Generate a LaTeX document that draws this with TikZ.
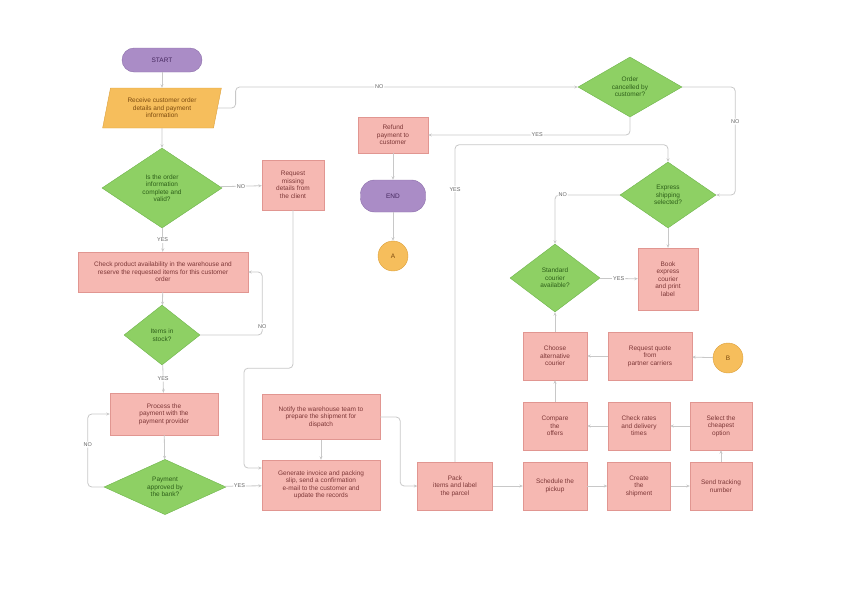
\documentclass[tikz,border=0pt]{standalone}
\usepackage{fontspec}
\setmainfont{Liberation Sans}
\usetikzlibrary{arrows.meta,shapes.geometric}
\definecolor{termfill}{RGB}{170,140,198}
\definecolor{termdraw}{RGB}{140,110,170}
\definecolor{termtext}{RGB}{70,40,95}
\definecolor{iofill}{RGB}{246,190,92}
\definecolor{iodraw}{RGB}{220,160,60}
\definecolor{iotext}{RGB}{125,75,15}
\definecolor{decfill}{RGB}{142,208,100}
\definecolor{decdraw}{RGB}{110,180,75}
\definecolor{dectext}{RGB}{45,95,25}
\definecolor{procfill}{RGB}{246,184,178}
\definecolor{procdraw}{RGB}{225,150,145}
\definecolor{proctext}{RGB}{125,55,55}
\definecolor{linegray}{RGB}{200,200,200}
\definecolor{lbltext}{RGB}{100,100,100}
\begin{document}
\begin{tikzpicture}[x=1pt, y=-1pt,
  base/.style={font=\fontsize{6.5}{7.5}\selectfont, align=center, inner sep=1pt},
  term/.style={base, draw=termdraw, fill=termfill, text=termtext},
  io/.style={base, trapezium, trapezium left angle=76, trapezium right angle=104,
             trapezium stretches=true, draw=iodraw, fill=iofill, text=iotext},
  dec/.style={base, diamond, draw=decdraw, fill=decfill, text=dectext, inner sep=0pt},
  proc/.style={base, draw=procdraw, fill=procfill, text=proctext},
  conn/.style={base, circle, draw=iodraw, fill=iofill, text=iotext, minimum size=30pt},
  arr/.style={-{Stealth[length=3.5pt,width=3pt]}, draw=linegray, line width=0.8pt,
              rounded corners=4pt},
  lbl/.style={font=\fontsize{5.5}{6}\selectfont, fill=white, text=lbltext, inner sep=1pt}
]
\useasboundingbox (0,0) rectangle (842,595);

\node[term, rounded corners=12pt, minimum width=80pt, minimum height=24pt] (start) at (162,60) {START};
\node[io, minimum width=119pt, minimum height=40pt] (order) at (162,108) {Receive customer order\\details and payment\\information};
\node[dec, minimum width=120pt, minimum height=80pt] (complete) at (162,188) {Is the order\\information\\complete and\\valid?};
\node[proc, minimum width=62pt, minimum height=50pt] (request) at (293,185) {Request\\missing\\details from\\the client};
\node[proc, minimum width=170pt, minimum height=40pt] (check) at (163,272) {Check product availability in the warehouse and\\reserve the requested items for this customer\\order};
\node[dec, minimum width=76pt, minimum height=60pt] (stock) at (162,335) {Items in\\stock?};
\node[proc, minimum width=108pt, minimum height=42pt] (pay) at (164,414) {Process the\\payment with the\\payment provider};
\node[dec, minimum width=122pt, minimum height=54pt] (approved) at (165,487) {Payment\\approved by\\the bank?};
\node[proc, minimum width=118pt, minimum height=45pt] (notify) at (321,417) {Notify the warehouse team to\\prepare the shipment for\\dispatch};
\node[proc, minimum width=118pt, minimum height=50pt] (invoice) at (321,485) {Generate invoice and packing\\slip, send a confirmation\\e-mail to the customer and\\update the records};
\node[proc, minimum width=75pt, minimum height=48pt] (pack) at (455,486) {Pack\\items and label\\the parcel};

\node[dec, minimum width=104pt, minimum height=60pt] (cancel) at (630,87) {Order\\cancelled by\\customer?};
\node[proc, minimum width=70pt, minimum height=36pt] (refund) at (393,135) {Refund\\payment to\\customer};
\node[term, rounded corners=14pt, minimum width=65pt, minimum height=32pt] (end) at (393,196) {END};
\node[conn] (conA) at (393,256) {A};

\node[dec, minimum width=96pt, minimum height=66pt] (express) at (668,195) {Express\\shipping\\selected?};
\node[dec, minimum width=90pt, minimum height=68pt] (courier) at (555,278) {Standard\\courier\\available?};
\node[proc, minimum width=60pt, minimum height=62pt] (book) at (668,279) {Book\\express\\courier\\and print\\label};
\node[proc, minimum width=64pt, minimum height=48pt] (choose) at (555,356) {Choose\\alternative\\courier};
\node[proc, minimum width=84pt, minimum height=48pt] (quote) at (650,356) {Request quote\\from\\partner carriers};
\node[conn] (conB) at (728,358) {B};
\node[proc, minimum width=64pt, minimum height=48pt] (compare) at (555,426) {Compare\\the\\offers};
\node[proc, minimum width=62pt, minimum height=48pt] (rates) at (639,426) {Check rates\\and delivery\\times};
\node[proc, minimum width=62pt, minimum height=48pt] (select) at (721,426) {Select the\\cheapest\\option};
\node[proc, minimum width=64pt, minimum height=48pt] (pickup) at (555,486) {Schedule the\\pickup};
\node[proc, minimum width=63pt, minimum height=48pt] (create) at (639,486) {Create\\the\\shipment};
\node[proc, minimum width=62pt, minimum height=48pt] (tracking) at (721,486) {Send tracking\\number};

\draw[arr] (start) -- (order);
\draw[arr] (order) -- (complete);
\draw[arr] (complete) -- node[lbl]{NO} (request);
\draw[arr] (complete) -- node[lbl]{YES} (check);
\draw[arr] (check) -- (stock);
\draw[arr] (stock.east) -| node[lbl,pos=0.57]{NO} ([xshift=14pt]check.east) -- (check.east);
\draw[arr] (stock) -- node[lbl]{YES} (pay);
\draw[arr] (pay) -- (approved);
\draw[arr] (approved.west) -| node[lbl,pos=0.79]{NO} ([xshift=-22pt]pay.west) -- (pay.west);
\draw[arr] (approved) -- node[lbl,pos=0.4]{YES} (invoice);
\draw[arr] (notify) -- (invoice);
\draw[arr] (request.south) -- ++(0,158) -- ++(-49,0) |- ([yshift=17pt]invoice.west);
\draw[arr] (notify.east) -- ++(20,0) |- (pack.west);
\draw[arr] (pack.north) -- node[lbl,pos=0.86]{YES} ++(0,-317) -| (express.north);

\draw[arr] (order.east) -- ++(18,0) |- node[lbl,pos=0.71]{NO} (cancel.west);
\draw[arr] (cancel.south) |- node[lbl,pos=0.73]{YES} (refund.east);
\draw[arr] (refund) -- (end);
\draw[arr] (end) -- (conA);
\draw[arr] (cancel.east) -| node[lbl,pos=0.66]{NO} ([xshift=19pt]express.east) -- (express.east);
\draw[arr] (express.west) -| node[lbl,pos=0.44]{NO} (courier.north);
\draw[arr] (express) -- (book);
\draw[arr] (courier) -- node[lbl]{YES} (book);
\draw[arr] (choose) -- (courier);
\draw[arr] (conB) -- (quote);
\draw[arr] (quote) -- (choose);
\draw[arr] (compare) -- (choose);
\draw[arr] (rates) -- (compare);
\draw[arr] (select) -- (rates);
\draw[arr] (tracking) -- (select);
\draw[arr] (pack) -- (pickup);
\draw[arr] (pickup) -- (create);
\draw[arr] (create) -- (tracking);
\end{tikzpicture}
\end{document}
